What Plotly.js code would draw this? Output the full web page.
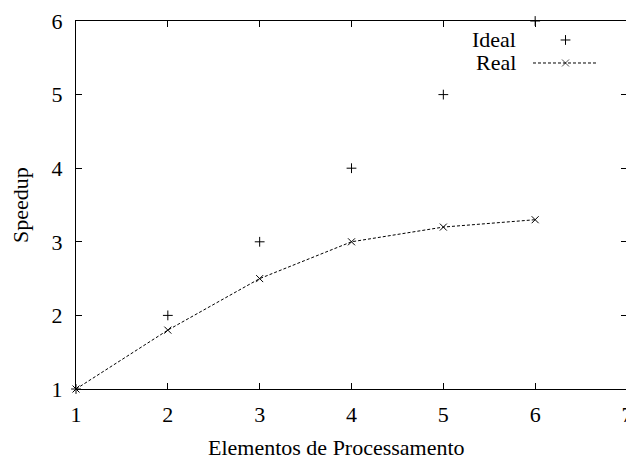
<!DOCTYPE html>
<html><head><meta charset="utf-8">
<script src="https://cdn.plot.ly/plotly-3.0.1.min.js"></script>
<style>html,body{margin:0;padding:0;overflow:hidden;background:#fff}</style>
</head><body><div id="chart"></div>
<script>
const elementos = [1, 2, 3, 4, 5, 6];
const ideal = [1, 2, 3, 4, 5, 6];
const real = [1, 1.8, 2.5, 3, 3.2, 3.3];
const xTicks = [1, 2, 3, 4, 5, 6, 7];
const yTicks = [1, 2, 3, 4, 5, 6];
const legendNames = ['Ideal', 'Real'];
const xTitle = 'Elementos de Processamento';
const yTitle = 'Speedup';

const font = {family: 'Liberation Serif, Times New Roman, serif', size: 22, color: '#000'};

const traces = [
  {x: elementos, y: ideal, mode: 'markers', name: legendNames[0], showlegend: false, cliponaxis: false,
   marker: {symbol: 'cross-thin-open', size: 7, line: {width: 1, color: '#000'}, color: '#000'}},
  {x: elementos, y: real, mode: 'lines+markers', name: legendNames[1], showlegend: false, cliponaxis: false,
   line: {color: '#000', width: 1, dash: '3px,2px'},
   marker: {symbol: 'x-thin-open', size: 7, line: {width: 1, color: '#000'}, color: '#000'}},
  // legend samples (hidden axes placed in the key area)
  {x: [0.5], y: [0.9484], xaxis: 'x2', yaxis: 'y2', mode: 'markers', showlegend: false, hoverinfo: 'skip',
   marker: {symbol: 'cross-thin-open', size: 7, color: '#000', line: {width: 1, color: '#000'}}},
  {x: [0, 0.5, 1], y: [0.8859, 0.8859, 0.8859], xaxis: 'x2', yaxis: 'y2', mode: 'lines+markers', showlegend: false, hoverinfo: 'skip',
   line: {color: '#000', width: 1, dash: '3px,2px'},
   marker: {symbol: 'x-thin-open', size: [0, 7, 0], color: '#000', line: {width: 1, color: '#000'}}}
];

const axisCommon = {
  showgrid: false, zeroline: false, showline: true, linecolor: '#000', linewidth: 1,
  mirror: 'ticks', ticks: 'inside', ticklen: 6, tickwidth: 1, tickcolor: '#000',
  tickfont: font, ticklabeloverflow: 'allow'
};

const layout = {
  width: 628, height: 460,
  margin: {l: 76, r: 1, t: 21, b: 71},
  paper_bgcolor: '#fff', plot_bgcolor: 'rgba(0,0,0,0)',
  font: font,
  showlegend: false,
  xaxis: Object.assign({}, axisCommon, {range: [1, 7], tickvals: xTicks, ticktext: xTicks.map(String), ticklabelstandoff: 6}),
  yaxis: Object.assign({}, axisCommon, {range: [1, 6], tickvals: yTicks, ticktext: yTicks.map(String), ticklabelstandoff: 8}),
  xaxis2: {domain: [0.8294, 0.9474], range: [0, 1], visible: false, anchor: 'y2'},
  yaxis2: {domain: [0, 1], range: [0, 1], visible: false, anchor: 'x2'},
  annotations: [
    {xref: 'paper', yref: 'paper', x: 0.803, y: 0.9484, xanchor: 'right', yanchor: 'middle', text: legendNames[0], showarrow: false, font: font},
    {xref: 'paper', yref: 'paper', x: 0.803, y: 0.8859, xanchor: 'right', yanchor: 'middle', text: legendNames[1], showarrow: false, font: font},
    {xref: 'paper', yref: 'paper', x: 0.472, y: -0.158, xanchor: 'center', yanchor: 'middle', text: xTitle, showarrow: false, font: font},
    {xref: 'paper', yref: 'paper', x: -0.1016, y: 0.5, xanchor: 'center', yanchor: 'middle', text: yTitle, textangle: -90, showarrow: false, font: font}
  ]
};

Plotly.newPlot('chart', traces, layout, {displayModeBar: false, staticPlot: true});
</script></body></html>
